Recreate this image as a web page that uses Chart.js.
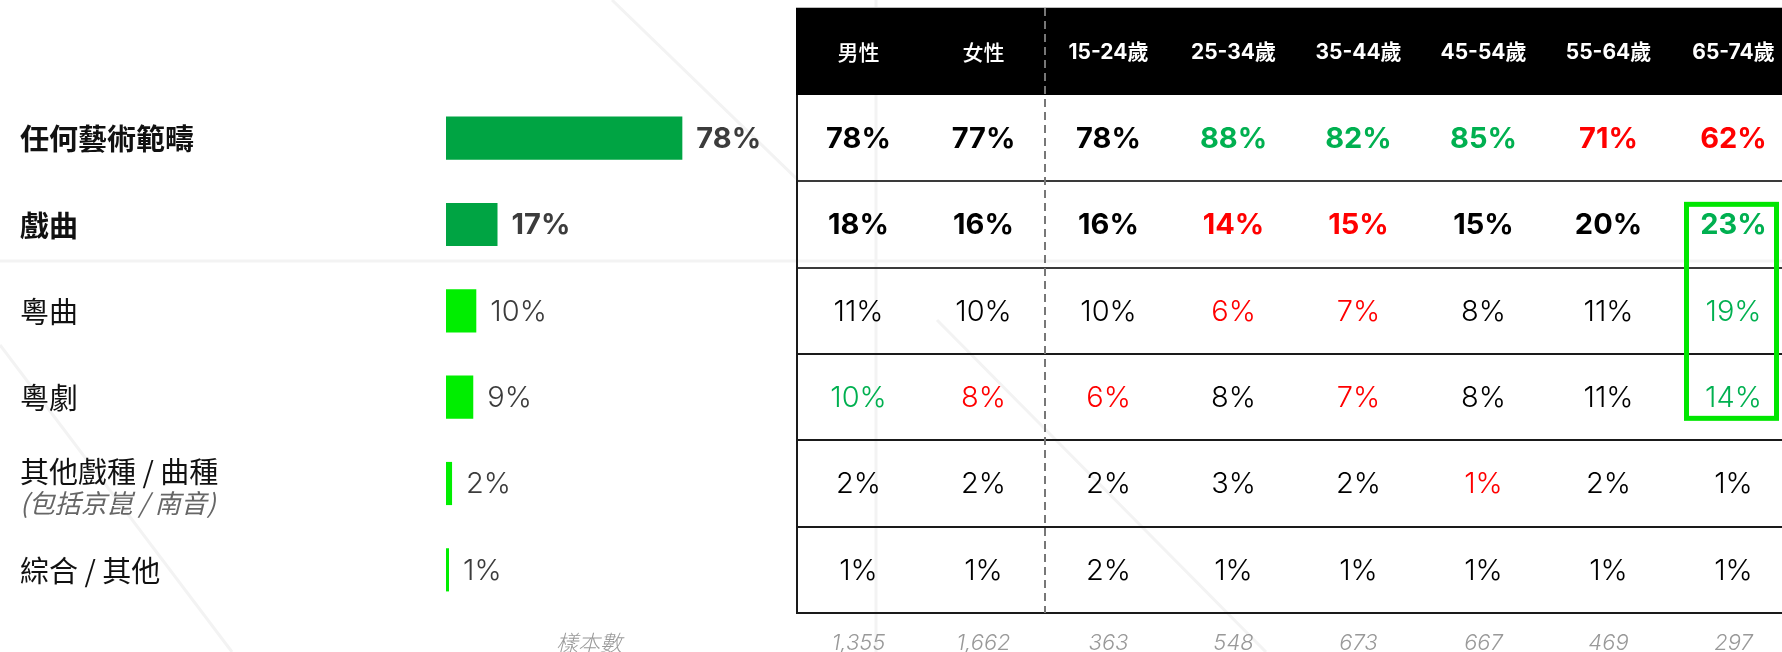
<!DOCTYPE html>
<html>
<head>
<meta charset="utf-8">
<script src="https://cdn.jsdelivr.net/npm/chart.js@4.4.1/dist/chart.umd.min.js"></script>
<style>
  html, body { margin: 0; padding: 0; background: #fff; }
  body { width: 1782px; height: 652px; overflow: hidden; position: relative; }
  #barBox { position: absolute; left: 0; top: 0; width: 796px; height: 652px; }
  #tableBox { position: absolute; left: 796px; top: 0; width: 1000px; height: 652px; }
</style>
</head>
<body>
<div id="barBox"><canvas id="barChart"></canvas></div>
<div id="tableBox"><canvas id="tableChart"></canvas></div>
<script>
// categories (rows) and overall share
const categories = ['任何藝術範疇', '戲曲', '粵曲', '粵劇', '其他戲種 / 曲種', '綜合 / 其他'];
const categoryNotes = ['', '', '', '', '(包括京崑 / 南音)', ''];
const overall = [78, 17, 10, 9, 2, 1];

// breakdown by gender / age
const groups = ['男性', '女性', '15-24歲', '25-34歲', '35-44歲', '45-54歲', '55-64歲', '65-74歲'];
const byGroup = [
  [78, 77, 78, 88, 82, 85, 71, 62],
  [18, 16, 16, 14, 15, 15, 20, 23],
  [11, 10, 10, 6, 7, 8, 11, 19],
  [10, 8, 6, 8, 7, 8, 11, 14],
  [2, 2, 2, 3, 2, 1, 2, 1],
  [1, 1, 2, 1, 1, 1, 1, 1]
];
// 1 = significantly higher, -1 = significantly lower
const significance = [
  [0, 0, 0, 1, 1, 1, -1, -1],
  [0, 0, 0, -1, -1, 0, 0, 1],
  [0, 0, 0, -1, -1, 0, 0, 1],
  [1, -1, -1, 0, -1, 0, 0, 1],
  [0, 0, 0, 0, 0, -1, 0, 0],
  [0, 0, 0, 0, 0, 0, 0, 0]
];
const sampleLabel = '樣本數';
const sampleSizes = ['1,355', '1,662', '363', '548', '673', '667', '469', '297'];
const highlightColumn = '65-74歲';
const highlightRows = ['戲曲', '粵曲', '粵劇'];

const LATIN = 'Inter, "Noto Sans CJK TC", sans-serif';
const CJK = '"Noto Sans CJK TC", "Noto Sans CJK SC", sans-serif';

// faint decorative strokes in the background (page coordinates)
function drawBackdrop(ctx, offsetX) {
  ctx.save();
  ctx.strokeStyle = '#f3f3f3';
  ctx.lineWidth = 3;
  var segs = [
    [0, 261, 1782, 261],
    [612, 0, 800, 182],
    [0, 345, 232, 652],
    [937, 320, 1266, 652],
    [876, 0, 876, 652]
  ];
  for (var i = 0; i < segs.length; i++) {
    var s = segs[i];
    ctx.beginPath();
    ctx.moveTo(s[0] - offsetX, s[1]);
    ctx.lineTo(s[2] - offsetX, s[3]);
    ctx.stroke();
  }
  ctx.restore();
}

const barLabels = {
  id: 'barLabels',
  beforeDraw(chart) {
    drawBackdrop(chart.ctx, 0);
  },
  afterDatasetsDraw(chart) {
    const ctx = chart.ctx;
    const yScale = chart.scales.y;
    const meta = chart.getDatasetMeta(0);
    ctx.save();
    ctx.textBaseline = 'middle';
    for (var i = 0; i < categories.length; i++) {
      var y = yScale.getPixelForValue(i);
      var strong = i < 2;
      ctx.fillStyle = '#111';
      ctx.textAlign = 'left';
      ctx.font = (strong ? 'bold ' : '') + '29px ' + CJK;
      if (categoryNotes[i]) {
        ctx.fillText(categories[i], 20, y - 12);
        ctx.fillStyle = '#666';
        ctx.font = 'italic 26px ' + CJK;
        ctx.fillText(categoryNotes[i], 20, y + 20);
      } else {
        ctx.fillText(categories[i], 20, y + 1);
      }
      // value after the bar
      var bar = meta.data[i];
      ctx.fillStyle = '#3c3c3c';
      ctx.font = (strong ? 'bold ' : '300 ') + '29px ' + LATIN;
      ctx.fillText(overall[i] + '%', bar.x + 14, y + 1);
    }
    ctx.fillStyle = '#999';
    ctx.textAlign = 'center';
    ctx.font = 'italic 300 22px ' + CJK;
    ctx.fillText(sampleLabel, 589, 643);
    ctx.restore();
  }
};

const barChart = new Chart(document.getElementById('barChart'), {
  type: 'bar',
  data: {
    labels: categories,
    datasets: [{
      data: overall,
      backgroundColor: overall.map(function (v, i) { return i < 2 ? '#00a443' : '#00ee00'; }),
      borderWidth: 0,
      categoryPercentage: 1,
      barPercentage: 0.5
    }]
  },
  options: {
    indexAxis: 'y',
    responsive: true,
    maintainAspectRatio: false,
    animation: false,
    devicePixelRatio: 1,
    events: [],
    layout: { padding: { left: 446, right: 47, top: 95, bottom: 39 } },
    plugins: { legend: { display: false }, tooltip: { enabled: false } },
    scales: {
      x: { type: 'linear', min: 0, max: 100, display: false },
      y: { type: 'category', display: false }
    }
  },
  plugins: [barLabels]
});

// one point per cell, placed on category scales
var cells = [];
for (var r = 0; r < categories.length; r++) {
  for (var c = 0; c < groups.length; c++) {
    cells.push({ x: groups[c], y: categories[r], v: byGroup[r][c], s: significance[r][c], row: r });
  }
}

const tableDraw = {
  id: 'tableDraw',
  beforeDraw(chart) {
    drawBackdrop(chart.ctx, 796);
  },
  afterDatasetsDraw(chart) {
    const ctx = chart.ctx;
    const xs = chart.scales.x;
    const ys = chart.scales.y;
    const area = chart.chartArea;
    const rowH = ys.getPixelForValue(1) - ys.getPixelForValue(0);
    const headTop = 8;
    ctx.save();

    // header band
    ctx.fillStyle = '#000';
    ctx.fillRect(0, headTop, chart.width, area.top - headTop);
    ctx.strokeStyle = '#bbb';
    ctx.lineWidth = 1;
    ctx.beginPath();
    ctx.moveTo(0, headTop - 0.5);
    ctx.lineTo(chart.width, headTop - 0.5);
    ctx.stroke();
    ctx.fillStyle = '#fff';
    ctx.textAlign = 'center';
    ctx.textBaseline = 'middle';
    for (var c = 0; c < groups.length; c++) {
      ctx.font = c < 2 ? '500 21px ' + CJK : 'bold 21px ' + LATIN;
      ctx.fillText(groups[c], xs.getPixelForValue(c), (headTop + area.top) / 2 + 1);
    }

    // row rules
    ctx.lineWidth = 2;
    for (var r = 0; r < categories.length; r++) {
      var yb = Math.round(ys.getPixelForValue(r) + rowH / 2);
      ctx.strokeStyle = r < 2 ? '#3a3a3a' : '#1a1a1a';
      ctx.beginPath();
      ctx.moveTo(0, yb);
      ctx.lineTo(chart.width, yb);
      ctx.stroke();
    }
    ctx.strokeStyle = '#1a1a1a';
    ctx.beginPath();
    ctx.moveTo(1, area.top);
    ctx.lineTo(1, area.bottom);
    ctx.stroke();

    // dashed divider between gender and age
    var xd = Math.round((xs.getPixelForValue(1) + xs.getPixelForValue(2)) / 2) - 1;
    ctx.strokeStyle = '#777';
    ctx.setLineDash([8, 5]);
    ctx.beginPath();
    ctx.moveTo(xd, headTop);
    ctx.lineTo(xd, area.bottom);
    ctx.stroke();
    ctx.setLineDash([]);

    // cell values
    const meta = chart.getDatasetMeta(0);
    for (var i = 0; i < cells.length; i++) {
      var cell = cells[i];
      var pt = meta.data[i];
      ctx.fillStyle = cell.s > 0 ? '#00b050' : (cell.s < 0 ? '#ff0000' : '#000');
      ctx.font = (cell.row < 2 ? 'bold ' : '300 ') + '29px ' + LATIN;
      ctx.fillText(cell.v + '%', pt.x, pt.y + 1);
    }

    // highlight box
    var hx = xs.getPixelForValue(groups.indexOf(highlightColumn)) - 2;
    var r0 = categories.indexOf(highlightRows[0]);
    var r1 = categories.indexOf(highlightRows[highlightRows.length - 1]);
    var top = ys.getPixelForValue(r0) - rowH / 2 + 23;
    var bottom = ys.getPixelForValue(r1) + rowH / 2 - 22;
    ctx.strokeStyle = '#00e600';
    ctx.lineWidth = 5;
    ctx.strokeRect(hx - 45, top, 90, bottom - top);

    // sample sizes
    ctx.fillStyle = '#999';
    ctx.font = 'italic 300 22px ' + LATIN;
    for (var c2 = 0; c2 < sampleSizes.length; c2++) {
      ctx.fillText(sampleSizes[c2], xs.getPixelForValue(c2), 643);
    }
    ctx.restore();
  }
};

const tableChart = new Chart(document.getElementById('tableChart'), {
  type: 'scatter',
  data: {
    datasets: [{ data: cells, pointRadius: 0, pointHoverRadius: 0 }]
  },
  options: {
    responsive: true,
    maintainAspectRatio: false,
    animation: false,
    devicePixelRatio: 1,
    events: [],
    layout: { padding: { left: 0, right: 0, top: 95, bottom: 39 } },
    plugins: { legend: { display: false }, tooltip: { enabled: false } },
    scales: {
      x: { type: 'category', labels: groups, offset: true, display: false },
      y: { type: 'category', labels: categories, offset: true, display: false }
    }
  },
  plugins: [tableDraw]
});
</script>
</body>
</html>
